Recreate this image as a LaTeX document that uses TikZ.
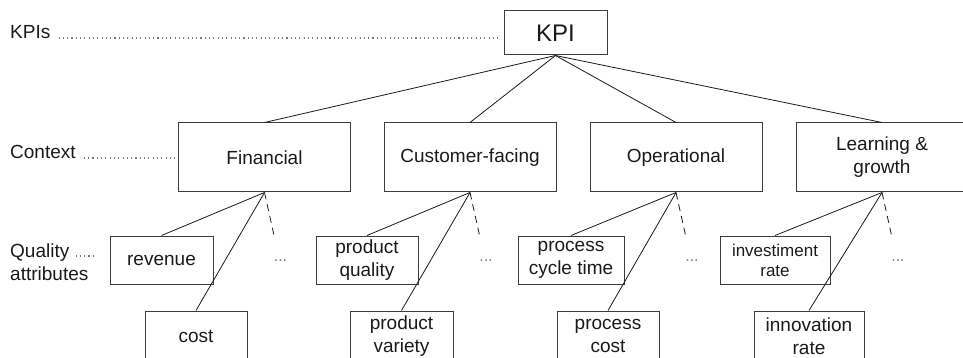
\documentclass[tikz,border=0pt]{standalone}
\usepackage{fontspec}
\setmainfont{Liberation Sans}
\definecolor{ink}{HTML}{1A1A1A}
\definecolor{boxgray}{HTML}{3C3C3C}
\definecolor{dotgray}{HTML}{7A7A7A}
\begin{document}
\begin{tikzpicture}[x=1pt,y=-1pt,
  box/.style={draw=boxgray, line width=1pt, inner sep=0pt, align=center, text=ink,
    font=\fontsize{19}{23}\selectfont},
  ctx/.style={box, minimum width=172pt, minimum height=69pt},
  attr/.style={box, minimum height=48pt},
  attrlow/.style={box, minimum height=50pt},
  link/.style={draw=ink, line width=0.8pt},
  more/.style={link, dash pattern=on 7pt off 5pt},
  leader/.style={draw=dotgray, line width=1.1pt, dash pattern=on 1.1pt off 3.2pt},
  lab/.style={inner sep=0pt, text=ink, font=\fontsize{19}{23}\selectfont},
  etc/.style={inner sep=0pt, text=dotgray, font=\fontsize{16}{16}\selectfont}
]
\useasboundingbox (0,0) rectangle (963,358);
\clip (0,0) rectangle (963,358);

% level labels on the left
\node[lab, anchor=base west] (kpis) at (10,39) {KPIs};
\node[lab, anchor=base west] (context) at (10,159) {Context};
\node[lab, anchor=base west] (quality) at (10,257) {Quality};
\node[lab, anchor=base west] (attributes) at (10,280) {attributes};

% root
\node[box, minimum width=103pt, minimum height=44pt,
      font=\fontsize{24}{28}\selectfont] (kpi) at (555.5,33) {KPI};

% context level
\node[ctx] (fin)   at (264.5,157.5) {Financial};
\node[ctx] (cust)  at (470,157.5)   {Customer-facing};
\node[ctx] (oper)  at (676,157.5)   {Operational};
\node[ctx] (learn) at (882,157.5)   {Learning \&\\growth};

% quality attributes, upper row
\node[attr, minimum width=103pt] (rev)    at (161.5,260) {revenue};
\node[attr, minimum width=102pt] (pqual)  at (367,260)   {product\\quality};
\node[attr, minimum width=106pt] (pcycle) at (571,260)   {process\\cycle time};
\node[attr, minimum width=110pt, font=\fontsize{17}{20}\selectfont]
      (invest) at (775,260) {investiment\\rate};

% quality attributes, lower row
\node[attrlow, minimum width=102pt] (cost)  at (196,336)   {cost};
\node[attrlow, minimum width=103pt] (pvar)  at (401.5,336) {product\\variety};
\node[attrlow, minimum width=102pt] (pcost) at (608,336)   {process\\cost};
\node[attrlow, minimum width=110pt] (innov) at (809,336)   {innovation\\rate};

% dotted leaders from the level labels
\draw[leader] ([xshift=8pt,yshift=1pt]kpis.base east) -- ([xshift=-5pt,yshift=1pt]kpis.base east -| kpi.west);
\draw[leader] ([xshift=8pt,yshift=1pt]context.base east) -- ([xshift=-2pt,yshift=1pt]context.base east -| fin.west);
\draw[leader] ([xshift=6pt,yshift=1pt]quality.base east) -- ([xshift=27pt,yshift=1pt]quality.base east);

% root to context
\foreach \c in {fin,cust,oper,learn}
  \draw[link] (kpi.south) -- (\c.north);

% context to attributes, with a dashed stub and dots for further ones
\foreach \c/\a/\b in {fin/rev/cost, cust/pqual/pvar, oper/pcycle/pcost, learn/invest/innov}{
  \draw[link] (\c.south) -- (\a.north);
  \draw[link] (\c.south) -- (\b.north);
  \coordinate (\c-stub) at ([xshift=10pt,yshift=-45pt]\c.south);
  \draw[more] (\c.south) -- (\c-stub);
  \node[etc] (\c-etc) at ([xshift=16pt,yshift=-68pt]\c.south) {...};
}
\end{tikzpicture}
\end{document}
